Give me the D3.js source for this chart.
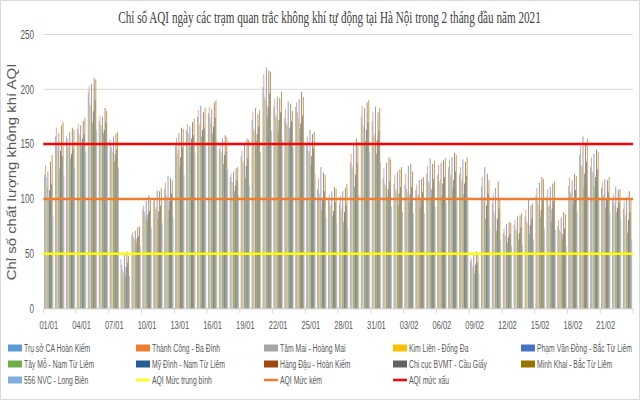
<!DOCTYPE html>
<html><head><meta charset="utf-8">
<script src="https://cdn.jsdelivr.net/npm/d3@7"></script>
<style>body{margin:0;background:#fff} svg{display:block}</style>
</head><body>
<svg id="c" width="640" height="400"></svg>
<script>
const titleText = "Chỉ số AQI ngày các trạm quan trắc không khí tự động tại Hà Nội trong 2 tháng đầu năm 2021";
const yTitle = "Chỉ số chất lượng không khí AQI";
const dates = ["01/01","02/01","03/01","04/01","05/01","06/01","07/01","08/01","09/01","10/01",
"11/01","12/01","13/01","14/01","15/01","16/01","17/01","18/01","19/01","20/01",
"21/01","22/01","23/01","24/01","25/01","26/01","27/01","28/01","29/01","30/01",
"31/01","01/02","02/02","03/02","04/02","05/02","06/02","07/02","08/02","09/02",
"10/02","11/02","12/02","13/02","14/02","15/02","16/02","17/02","18/02","19/02",
"20/02","21/02","22/02","23/02"];
const stations = ["Trụ sở CA Hoàn Kiếm","Thành Công - Ba Đình","Tâm Mai - Hoàng Mai","Kim Liên - Đống Đa","Phạm Văn Đồng - Bắc Từ Liêm",
"Tây Mỗ - Nam Từ Liêm","Mỹ Đình - Nam Từ Liêm","Hàng Đậu - Hoàn Kiếm","Chi cục BVMT - Cầu Giấy","Minh Khai - Bắc Từ Liêm","556 NVC - Long Biên"];
const truSoCA   = [122,157,157,164,197,171,154,45,67,91,98,109,149,163,175,178,146,120,139,172,202,184,174,184,150,109,100,96,133,175,171,119,114,113,108,123,122,129,123,43,111,96,69,76,84,103,102,75,112,140,129,110,99,91];
const thanhCong = [131,165,155,169,203,176,150,40,70,94,101,115,156,168,181,184,151,123,144,179,214,191,182,188,157,119,104,103,141,185,179,128,122,123,113,130,131,136,129,46,120,105,73,81,90,110,109,81,119,148,138,115,105,98];
const tamMai    = [120,149,147,160,187,167,147,35,65,88,91,103,142,160,167,174,142,116,133,164,193,176,169,179,144,105,93,90,128,168,157,114,107,109,103,116,116,123,116,39,102,88,67,71,80,98,93,72,106,131,125,103,96,84];
const kimLien   = [111,144,149,157,185,168,143,33,63,84,93,100,145,157,169,170,143,115,135,162,190,174,167,174,142,102,95,92,130,165,160,112,109,106,104,114,118,121,119,37,100,85,66,73,78,95,95,70,104,129,123,104,94,86];
const phamVanDong = [125,160,161,167,205,175,157,50,71,98,108,121,160,166,185,182,155,125,151,183,220,193,189,191,163,129,107,107,150,183,184,133,125,130,117,137,133,138,136,50,129,110,77,84,100,115,111,83,117,157,141,118,111,102];
const tayMo     = [99,128,137,149,170,160,134,29,59,81,82,90,129,148,157,160,132,107,119,153,175,162,154,164,131,90,84,79,111,153,141,102,94,97,92,102,103,110,104,32,82,71,60,63,68,83,79,63,95,111,111,92,88,69];
const myDinh    = [108,144,141,155,180,163,141,38,64,86,89,98,138,155,163,166,140,112,130,159,184,172,165,169,139,100,89,88,122,163,154,109,105,104,101,109,114,117,114,40,94,82,65,69,76,90,91,68,100,123,120,99,92,81];
const hangDau   = [134,167,165,171,210,183,159,52,74,103,107,119,165,170,179,188,158,128,155,177,217,192,187,198,159,124,111,110,155,188,179,138,127,132,118,132,135,142,134,52,123,116,79,85,94,120,114,88,123,151,145,117,108,107];
const chiCuc    = [114,139,145,159,190,170,145,42,66,89,94,105,147,158,165,174,143,117,137,166,196,179,171,176,146,107,97,94,133,170,162,116,111,111,106,118,120,125,121,42,105,91,68,74,82,100,98,73,108,134,127,106,97,88];
const minhKhai  = [140,170,163,174,209,180,161,48,75,100,110,117,164,173,183,190,156,129,154,181,216,198,180,193,161,122,109,114,152,190,183,136,129,125,120,135,137,140,138,49,117,99,78,87,96,118,116,86,121,155,143,120,109,100];
const nvc556    = [84,122,128,143,163,152,128,30,57,74,78,83,122,142,148,153,127,103,112,143,162,154,147,152,123,83,77,73,104,142,133,93,88,87,87,93,97,102,98,32,73,62,57,58,63,73,72,57,88,103,102,88,82,63];
const seriesValues = [truSoCA,thanhCong,tamMai,kimLien,phamVanDong,tayMo,myDinh,hangDau,chiCuc,minhKhai,nvc556];
const stationColors = ["#5B9BD5","#ED7D31","#A5A5A5","#FFC000","#4472C4","#70AD47","#255E91","#9E480E","#636363","#997300","#7CAFDD"];
const thresholdLabels = ["AQI Mức trung bình","AQI Mức kém","AQI mức xấu"];
const thresholdValues = [50,100,150];
const thresholdColors = ["#FFFF00","#ED7D31","#FF0000"];
const yTicks = [0,50,100,150,200,250];
const xTickLabels = dates.filter((d,i)=>i%3===0);

const svg = d3.select("#c");
const font = "'Liberation Sans', Arial, sans-serif";
const m = {l:43.3, r:633, t:34.5, b:308.5};

// horizontally condense text via a scale transform (keeps it as real text)
function condense(sel, ratio){
  sel.each(function(){
    const t = d3.select(this);
    const base = t.attr("transform") || "";
    t.attr("transform", base + ` scale(${ratio},1)`);
  });
}

svg.append("rect").attr("x",0.5).attr("y",0.5).attr("width",639).attr("height",399)
  .attr("fill","#fff").attr("stroke","#d9d9d9");

const x = d3.scaleBand().domain(dates).range([m.l,m.r]).paddingInner(0.15).paddingOuter(0.075);
const xs = d3.scaleBand().domain(d3.range(stations.length)).range([0,x.bandwidth()]);
const y = d3.scaleLinear().domain([0,250]).range([m.b,m.t]);

// gridlines
svg.append("g").selectAll("line").data(yTicks).join("line")
  .attr("x1",m.l).attr("x2",m.r).attr("y1",d=>y(d)).attr("y2",d=>y(d))
  .attr("stroke","#d9d9d9").attr("stroke-width",1);

// bars
const g = svg.append("g").attr("fill-opacity",0.78);
dates.forEach((d,i)=>{
  const cg = g.append("g").attr("transform",`translate(${x(d)},0)`);
  seriesValues.forEach((arr,s)=>{
    cg.append("rect").attr("x",xs(s)).attr("width",xs.bandwidth())
      .attr("y",y(arr[i])).attr("height",y(0)-y(arr[i])).attr("fill",stationColors[s]);
  });
});

// category tick marks every 3 categories
const step = x.step();
const tickIdx = d3.range(0, dates.length+1, 3);
svg.append("g").selectAll("line").data(tickIdx).join("line")
  .attr("x1",i=>m.l+i*step).attr("x2",i=>m.l+i*step)
  .attr("y1",m.b).attr("y2",m.b+5).attr("stroke","#d9d9d9");

// threshold lines
svg.append("g").selectAll("line").data(thresholdValues).join("line")
  .attr("x1",m.l).attr("x2",m.r).attr("y1",d=>y(d)).attr("y2",d=>y(d))
  .attr("stroke",(d,i)=>thresholdColors[i]).attr("stroke-width",2.5);

// y axis
const ya = svg.append("g").attr("transform","translate(34,0)")
  .call(d3.axisLeft(y).tickValues(yTicks).tickSize(0).tickPadding(0));
ya.select(".domain").remove();
ya.selectAll("text").attr("font-family",font).attr("font-size",12).attr("fill","#595959").call(condense,0.68);

// x axis
const xa = svg.append("g").attr("transform",`translate(0,${m.b})`)
  .call(d3.axisBottom(x).tickValues(xTickLabels).tickSize(0).tickPadding(13));
xa.select(".domain").attr("stroke","#d9d9d9");
xa.selectAll("text").attr("font-family",font).attr("font-size",11).attr("fill","#595959").call(condense,0.68);

// title
const tt = svg.append("text").attr("text-anchor","middle")
  .attr("font-family","'Liberation Serif','Times New Roman',serif").attr("font-size",16).attr("fill","#404040")
  .text(titleText);
const tw = tt.node().getComputedTextLength();
tt.attr("transform",`translate(329.5,23) scale(${423/tw},1)`);

// y title
const yt = svg.append("text").attr("text-anchor","middle").attr("dominant-baseline","central")
  .attr("font-family",font).attr("font-size",12).attr("fill","#595959").text(yTitle);
const yw = yt.node().getComputedTextLength();
yt.attr("transform",`translate(12,172) rotate(-90) scale(${217/yw},1)`);

// legend
const legendItems = stations.map((s,i)=>({name:s,color:stationColors[i],type:"rect"}))
  .concat(thresholdLabels.map((s,i)=>({name:s,color:thresholdColors[i],type:"line"})));
const colX = [8,136,264,393,521], rowY = [348,364,380];
const lg = svg.append("g");
legendItems.forEach((it,i)=>{
  const cx = colX[i%5], cy = rowY[Math.floor(i/5)];
  if(it.type==="rect") lg.append("rect").attr("x",cx).attr("y",cy-3.5).attr("width",14).attr("height",7).attr("fill",it.color);
  else lg.append("line").attr("x1",cx).attr("x2",cx+14).attr("y1",cy).attr("y2",cy).attr("stroke",it.color).attr("stroke-width",2.5);
  lg.append("text").attr("transform",`translate(${cx+16},${cy})`).attr("dominant-baseline","central")
    .attr("font-family",font).attr("font-size",11).attr("fill","#595959").text(it.name);
});
lg.selectAll("text").call(condense,0.62);
</script>
</body></html>
